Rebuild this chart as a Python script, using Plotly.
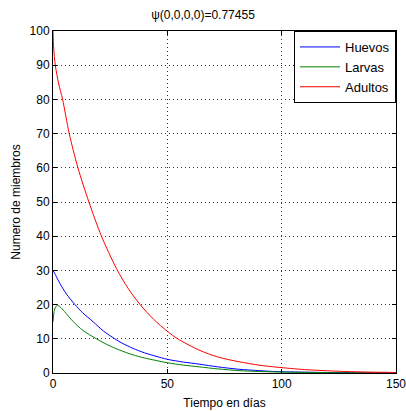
import plotly.graph_objects as go

# Data (time in days, number of members)
t_huevos = [0, 1, 3, 6, 9.6, 13, 17.5, 22, 27, 30, 35, 40, 45, 50, 57, 63.9, 72, 81.3, 90, 98, 110, 120, 130, 140, 150]
huevos = [30, 28.8, 26.2, 23.0, 20, 17.6, 15, 12.3, 10, 8.8, 7.2, 5.9, 4.9, 4.0, 3.2, 2.6, 1.8, 1.1, 0.7, 0.4, 0.25, 0.15, 0.1, 0.06, 0.04]

t_larvas = [0, 0.4, 0.9, 1.9, 3, 5, 8.9, 13, 19, 24, 29.1, 35, 40, 50, 57, 63.9, 72, 81.3, 90, 98, 110, 120, 130, 140, 150]
larvas = [15, 17.6, 19.0, 19.8, 19.4, 18.0, 15, 12.5, 10, 8.2, 6.7, 5.3, 4.4, 3.0, 2.3, 1.8, 1.2, 0.7, 0.45, 0.3, 0.18, 0.1, 0.06, 0.04, 0.02]

t_adultos = [0, 0.3, 1, 2.5, 4.2, 7.1, 10.9, 15.7, 21.2, 27.7, 33, 38.1, 44, 50, 54.5, 63.9, 72, 81.3, 90, 98, 110, 120, 130, 140, 150]
adultos = [100, 95, 90, 84.5, 80, 70, 60, 50, 40, 30.6, 24.6, 20, 15.7, 12.2, 10, 6.7, 4.7, 3.3, 2.3, 1.7, 1.0, 0.65, 0.4, 0.25, 0.15]

x_ticks = [0, 50, 100, 150]
y_ticks = list(range(0, 101, 10))

font = "Liberation Sans, Arial, sans-serif"

fig = go.Figure()
fig.add_trace(go.Scatter(x=t_huevos, y=huevos, mode="lines", name="Huevos",
                         line=dict(color="#0000ff", width=1, shape="spline", smoothing=0.8)))
fig.add_trace(go.Scatter(x=t_larvas, y=larvas, mode="lines", name="Larvas",
                         line=dict(color="#008000", width=1, shape="spline", smoothing=0.8)))
fig.add_trace(go.Scatter(x=t_adultos, y=adultos, mode="lines", name="Adultos",
                         line=dict(color="#ff0000", width=1, shape="spline", smoothing=0.8)))

axis_common = dict(
    showline=True, linecolor="black", linewidth=1, mirror="ticks",
    ticks="inside", ticklen=4, tickcolor="black",
    showgrid=True, gridcolor="#333333", griddash="1px,3px", gridwidth=1,
    zeroline=False, automargin=False, ticklabeloverflow="allow",
    tickfont=dict(family=font, size=12, color="black"),
)

fig.update_layout(
    width=406, height=411,
    margin=dict(l=53, r=10, t=31, b=38),
    paper_bgcolor="white", plot_bgcolor="white",
    font=dict(family=font, size=12, color="black"),
    title=dict(text="ψ(0,0,0,0)=0.77455", x=0.5, xanchor="center",
               y=1 - 15 / 411, yanchor="middle", font=dict(size=12)),
    xaxis=dict(range=[0, 150], tickvals=x_ticks,
               title=dict(text="Tiempo en días", standoff=8, font=dict(size=12)),
               **axis_common),
    yaxis=dict(range=[0, 100], tickvals=y_ticks,
               title=dict(text="Numero de miembros", standoff=6, font=dict(size=12)),
               **axis_common),
    legend=dict(x=1, xanchor="right", y=1, yanchor="top",
                bgcolor="white", bordercolor="black", borderwidth=1,
                font=dict(family=font, size=13), tracegroupgap=0,
                itemwidth=40),
    showlegend=True,
)

fig.write_html("out.html")
